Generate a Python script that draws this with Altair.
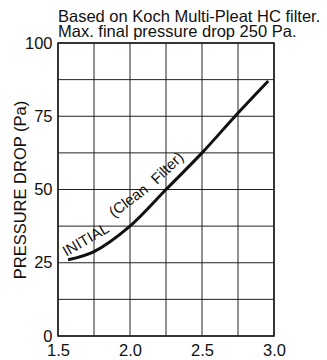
import altair as alt
import pandas as pd

# Curve: initial (clean filter) pressure drop
velocity = [1.57, 1.75, 2.0, 2.25, 2.5, 2.73, 2.96]
pressure = [26, 28.8, 37.5, 50, 62.5, 75, 87]

# Curve label pieces (follow the bend of the curve)
label_text = ["INITIAL", "(Clean", "Filter)"]
label_x = [1.71, 2.01, 2.283]
label_y = [31.4, 44.8, 56.1]
label_angle = [330, 323, 316]

x_grid = [1.5, 1.75, 2.0, 2.25, 2.5, 2.75, 3.0]
y_grid = [0, 12.5, 25, 37.5, 50, 62.5, 75, 87.5, 100]
x_ticks = [1.5, 2.0, 2.5, 3.0]
y_ticks = [0, 25, 50, 75, 100]

title_lines = ["Based on Koch Multi-Pleat HC filter.", "Max. final pressure drop 250 Pa."]
y_title = "PRESSURE DROP (Pa)"

FONT = "Liberation Sans"

curve_df = pd.DataFrame({"v": velocity, "p": pressure})
label_df = pd.DataFrame({"t": label_text, "v": label_x, "p": label_y, "a": label_angle})
xg_df = pd.DataFrame({"v": x_grid})
yg_df = pd.DataFrame({"p": y_grid})

xscale = alt.Scale(domain=[1.5, 3.0], nice=False, zero=False)
yscale = alt.Scale(domain=[0, 100], nice=False)

xaxis = alt.Axis(
    values=x_ticks, title=None, grid=False, format=".1f",
    ticks=False, domain=False, labelFont=FONT, labelFontSize=16.5, labelColor="#111",
    labelPadding=6, labelFlush=False,
)
yaxis = alt.Axis(
    values=y_ticks, title=y_title, grid=False, format="d",
    ticks=False, domain=False, labelFont=FONT, labelFontSize=16.5, labelColor="#111",
    labelPadding=6, labelFlush=False,
    titleFont=FONT, titleFontSize=16.5, titleFontWeight="normal", titleColor="#111",
    titleX=-32.5, titleY=146.5, titleBaseline="alphabetic", titleAlign="center",
    titleAngle=270,
)

X = alt.X("v:Q", scale=xscale, axis=xaxis)
Y = alt.Y("p:Q", scale=yscale, axis=yaxis)

vgrid = alt.Chart(xg_df).mark_rule(color="#222", strokeWidth=1).encode(x=X)
hgrid = alt.Chart(yg_df).mark_rule(color="#222", strokeWidth=1).encode(y=Y)

line = alt.Chart(curve_df).mark_line(
    color="#111", strokeWidth=3, interpolate="catmull-rom"
).encode(x=X, y=Y)

labels = alt.Chart(label_df).mark_text(
    font=FONT, fontSize=15, color="#111", align="center", baseline="alphabetic"
).encode(
    x=X,
    y=Y,
    text="t:N",
    angle=alt.Angle("a:Q", scale=None),
)

chart = alt.layer(vgrid, hgrid, line, labels).properties(
    width=216,
    height=293,
    autosize=alt.AutoSizeParams(type="none"),
    padding={"left": 50, "top": 35, "right": 45, "bottom": 24},
    title=alt.TitleParams(
        text=title_lines, anchor="start", frame="group", font=FONT, fontSize=16.5,
        fontWeight="normal", color="#111", lineHeight=15.3, offset=-6,
    ),
).configure_view(
    stroke="#111", strokeWidth=1.5
)

chart.save("out.html", embed_options={"renderer": "svg", "actions": False})
